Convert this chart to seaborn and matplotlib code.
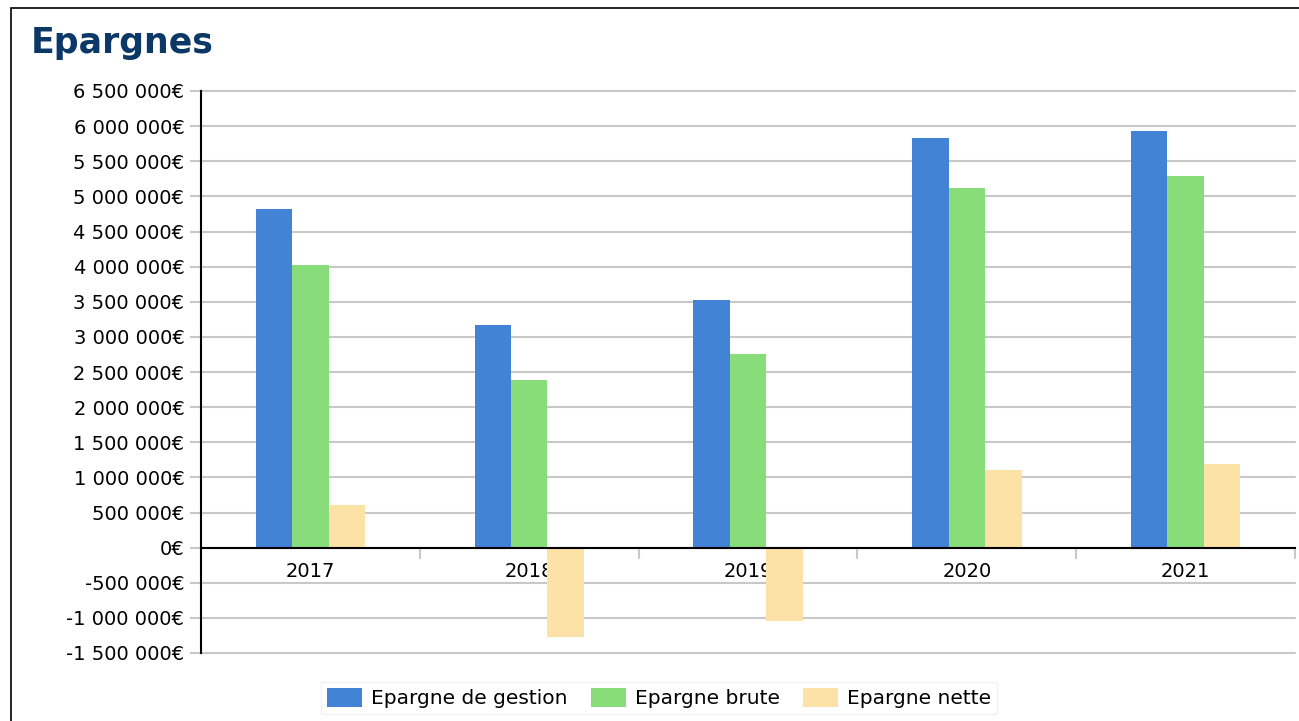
import matplotlib
matplotlib.use("Agg")
import matplotlib.pyplot as plt
import matplotlib.ticker as mticker
from matplotlib.patches import Rectangle
import seaborn as sns
import pandas as pd

years = ["2017", "2018", "2019", "2020", "2021"]
series = ["Epargne de gestion", "Epargne brute", "Epargne nette"]
epargne_gestion = [4820000, 3170000, 3530000, 5830000, 5930000]
epargne_brute = [4030000, 2390000, 2750000, 5120000, 5290000]
epargne_nette = [600000, -1270000, -1040000, 1110000, 1190000]
colors = ["#4283D6", "#88DD7A", "#FCE2A6"]

rows = []
for name, vals in zip(series, [epargne_gestion, epargne_brute, epargne_nette]):
    for y, v in zip(years, vals):
        rows.append({"Année": y, "Série": name, "Valeur": v})
df = pd.DataFrame(rows)

sns.set_theme(style="white")
plt.rcParams['font.family'] = ['DejaVu Sans']

fig = plt.figure(figsize=(12.99, 7.21), dpi=100)
ax = fig.add_axes([201/1299, 1-653/721, (1295-201)/1299, (653-91)/721])

sns.barplot(data=df, x="Année", y="Valeur", hue="Série", palette=colors,
            width=0.5, saturation=1, ax=ax, legend=True, linewidth=0, zorder=1)

ax.set_ylim(-1500000, 6500000)
ax.set_xlim(-0.5, 4.5)
ax.yaxis.set_major_locator(mticker.MultipleLocator(500000))

def fmt(v, pos):
    s = f"{abs(int(round(v))):,}".replace(",", " ")
    return ("-" if v < 0 else "") + s + "€"
ax.yaxis.set_major_formatter(mticker.FuncFormatter(fmt))

ax.set_axisbelow(True)
ax.yaxis.grid(True, color="#c8c8c8", linewidth=1.5)
ax.tick_params(axis="y", which="major", left=True, length=8, width=1.5, color="#c8c8c8",
               labelsize=14, pad=4, labelcolor="black")

# x axis: boundary ticks (major) and labels at centres (minor)
ax.xaxis.set_major_locator(mticker.FixedLocator([0.5, 1.5, 2.5, 3.5, 4.5]))
ax.xaxis.set_major_formatter(mticker.NullFormatter())
ax.xaxis.set_minor_locator(mticker.FixedLocator(range(len(years))))
ax.xaxis.set_minor_formatter(mticker.FixedFormatter(years))
ax.tick_params(axis="x", which="major", bottom=True, length=8, width=1.5,
               color="#c8c8c8", direction="out")
ax.tick_params(axis="x", which="minor", bottom=True, length=0, labelsize=14, pad=10,
               labelcolor="black")
ax.xaxis.set_zorder(0.5)
ax.yaxis.set_zorder(0.5)
for gl in ax.get_ygridlines():
    gl.set_clip_on(False)

ax.spines["bottom"].set_position(("data", 0))
ax.spines["bottom"].set_color("black")
ax.spines["bottom"].set_linewidth(1.5)
ax.spines["left"].set_color("black")
ax.spines["left"].set_linewidth(1.5)
ax.spines["top"].set_visible(False)
ax.spines["right"].set_visible(False)
ax.set_xlabel("")
ax.set_ylabel("")

handles, labels = ax.get_legend_handles_labels()
ax.get_legend().remove()
leg = fig.legend(handles, labels, loc="center", bbox_to_anchor=(659/1299, 1-698/721),
                 ncol=3, frameon=True, fancybox=False, fontsize=14.5,
                 handlelength=1.75, handleheight=1.1, columnspacing=1.15,
                 handletextpad=0.45, borderpad=0.3, labelcolor="black")
leg.get_frame().set_edgecolor("#eeeeee")
leg.get_frame().set_linewidth(1.0)

fig.text(31/1299, 1-43/721, "Epargnes", fontsize=25, fontweight="bold",
         color="#0B3866", ha="left", va="center")

fig.add_artist(Rectangle((10.5/1299, -0.1), 1.2, 1 - 7.5/721 + 0.1,
                         transform=fig.transFigure, fill=False,
                         edgecolor="black", linewidth=1.2, clip_on=False))

fig.savefig("out.png", dpi=100)
